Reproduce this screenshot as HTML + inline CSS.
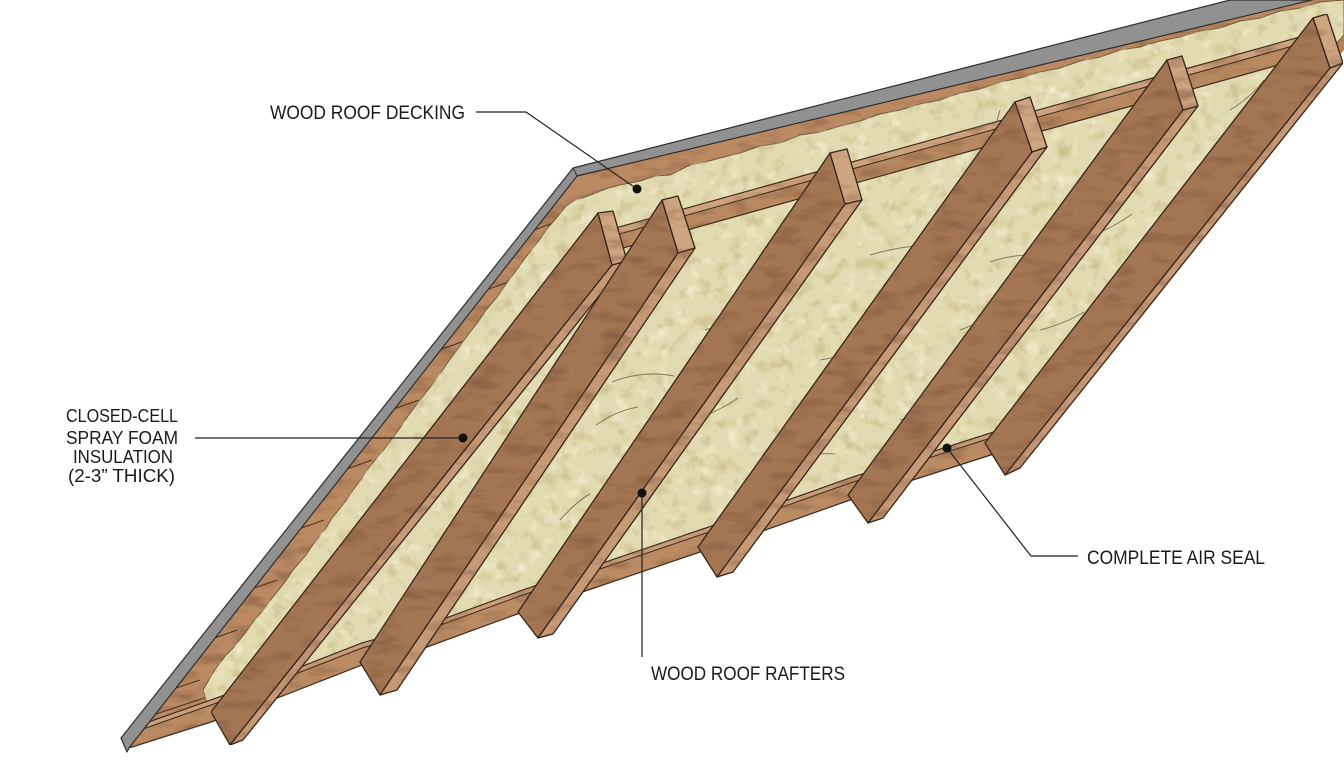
<!DOCTYPE html>
<html><head><meta charset="utf-8"><style>html,body{margin:0;padding:0;background:#fff}svg{display:block}</style></head>
<body>
<svg width="1344" height="768" viewBox="0 0 1344 768" xmlns="http://www.w3.org/2000/svg">
<defs>
<filter id="foamf" x="0" y="0" width="100%" height="100%" color-interpolation-filters="sRGB">
<feTurbulence type="fractalNoise" baseFrequency="0.07" numOctaves="3" seed="5" result="t"/>
<feColorMatrix in="t" type="matrix" values="0 0 0 0 0.76 0 0 0 0 0.71 0 0 0 0 0.50 2 0 0 0 -1.05" result="dk"/>
<feColorMatrix in="t" type="matrix" values="0 0 0 0 0.97 0 0 0 0 0.95 0 0 0 0 0.84 0 -2.2 0 0 1.0" result="lt"/>
<feComposite in="dk" in2="SourceGraphic" operator="in" result="dk2"/>
<feComposite in="lt" in2="SourceGraphic" operator="in" result="lt2"/>
<feMerge><feMergeNode in="SourceGraphic"/><feMergeNode in="dk2"/><feMergeNode in="lt2"/></feMerge>
</filter>
<filter id="woodf" x="0" y="0" width="100%" height="100%" color-interpolation-filters="sRGB">
<feTurbulence type="fractalNoise" baseFrequency="0.03 0.09" numOctaves="3" seed="9" result="t"/>
<feColorMatrix in="t" type="matrix" values="0 0 0 0 0.45 0 0 0 0 0.30 0 0 0 0 0.20 1.2 0 0 0 -0.56" result="dk"/>
<feComposite in="dk" in2="SourceGraphic" operator="in" result="dk2"/>
<feMerge><feMergeNode in="SourceGraphic"/><feMergeNode in="dk2"/></feMerge>
</filter>
</defs>

<!-- base deck wood -->
<g filter="url(#woodf)">
<polygon points="577,176 1312,0 1344,0 1344,50 1010,448 1000,452 913,480 850,500 760,532 700,552 600,586 520,613 427,647 362,665 280,697 211,722 129,748" fill="#bb8a63"/>
</g>
<!-- plank lines in left band -->
<g stroke="#4a3424" stroke-width="1.1" fill="none">
<path d="M534,230 l28,-10"/><path d="M486,290 l28,-10"/><path d="M439,350 l28,-10"/>
<path d="M391,410 l28,-10"/><path d="M344,470 l28,-10"/><path d="M296,530 l28,-10"/>
<path d="M249,590 l28,-10"/><path d="M209,640 l28,-10"/><path d="M170,690 l30,-10"/>
<path d="M150,716 l60,-20"/>
</g>

<!-- foam -->
<g filter="url(#foamf)">
<polygon fill="#e2dab0" stroke="#6e5a3a" stroke-width="1" points="214,707 206,700 203,690 210,678 216,668 226,655 233,648 246,632 253,622 265,608 272,598 285,582 293,570 306,555 312,546 326,528 332,518 345,502 350,494 362,478 370,466 382,452 388,444 400,428 408,416 420,400 428,390 440,374 448,362 460,346 467,336 478,322 486,310 498,296 506,284 518,268 525,258 538,242 546,230 558,216 566,206 576,200 585,197 598,192 608,188 620,185 640,181 655,176 670,175 690,165 705,162 720,158 740,153 760,146 780,143 800,135 820,132 840,126 860,121 880,114 900,110 920,104 940,100 960,93 980,89 1000,82 1020,78 1040,72 1060,68 1080,61 1100,57 1120,50 1140,47 1160,41 1180,37 1200,31 1220,28 1240,21 1260,18 1280,11 1300,8 1320,2 1344,0 1344,35 1336,44 1000,455 1000,434 980,438 950,449 913,460 880,469 850,480 820,490 790,501 760,512 730,521 700,532 650,549 600,566 560,579 520,593 480,608 427,627 395,637 362,645 320,661 280,677 245,690 220,700"/>
</g>
<!-- foam crack marks -->
<g stroke="#5e5034" stroke-width="1" fill="none" opacity="0.7">
<path d="M612,382 q30,-12 62,-6"/><path d="M596,425 q20,-14 42,-18"/><path d="M560,520 q18,-20 30,-26"/>
<path d="M705,330 q35,-10 70,-8"/><path d="M690,420 q25,-6 48,-22"/><path d="M640,560 q25,-8 48,-4"/>
<path d="M870,255 q40,-12 80,-10"/><path d="M820,360 q28,-4 52,-18"/><path d="M780,460 q30,-8 55,-6"/>
<path d="M990,262 q30,-10 58,-6"/><path d="M960,330 q22,-8 40,-22"/><path d="M900,420 q26,-4 46,-16"/>
<path d="M1110,150 q30,-8 55,-22"/><path d="M1080,240 q30,-10 52,-26"/><path d="M1040,330 q24,-6 44,-18"/>
<path d="M1230,110 q20,-12 34,-30"/><path d="M1180,210 q22,-8 40,-24"/><path d="M1120,300 q24,-4 44,-18"/>
<path d="M470,540 q10,-18 14,-30"/><path d="M520,470 q18,-10 34,-12"/>
<path d="M1000,110 q-6,18 -2,28"/><path d="M900,150 q10,-4 22,-6"/>
</g>

<!-- blocking at top -->
<g filter="url(#woodf)">
<polygon points="605,231 1325,30 1325,52 605,253" fill="#b88860" stroke="#3a2a1e" stroke-width="1.2"/>
<polygon points="605,231 1325,30 1325,37 605,238" fill="#cda27c" stroke="#3a2a1e" stroke-width="1"/>
</g>

<!-- header at bottom -->
<g filter="url(#woodf)">
<polygon fill="#bb8b64" stroke="#3a2a1e" stroke-width="1.2" points="129,748 211,722 280,697 362,665 427,647 520,613 600,586 700,552 760,532 850,500 913,480 1000,452 1010,448 1010,426 1000,430 913,458 850,478 760,510 700,530 600,564 520,591 427,625 362,643 280,675 211,700 143,724"/>
<polygon fill="#cb9f79" stroke="#3a2a1e" stroke-width="1" points="143,724 211,700 280,675 362,643 427,625 520,591 600,564 700,530 760,510 850,478 913,458 1000,430 1010,426 1010,431 1000,435 913,463 850,483 760,515 700,535 600,569 520,596 427,630 362,648 280,680 211,705 143,729"/>
</g>

<!-- rafters -->
<g filter="url(#woodf)" stroke="#33241a" stroke-width="1.3" stroke-linejoin="round">
<polygon points="598,213 612,265 230,745 211,712" fill="#a57654"/>
<polygon points="612,265 627,261 243,740 230,745" fill="#c69a77"/>
<polygon points="598,213 613,211 627,261 612,265" fill="#cea581"/>

<polygon points="662,200 678,253 380,695 360,662" fill="#a57654"/>
<polygon points="678,253 695,248 397,690 380,695" fill="#c69a77"/>
<polygon points="662,200 678,196 695,248 678,253" fill="#cea581"/>

<polygon points="830,153 845,204 538,638 518,612" fill="#a57654"/>
<polygon points="845,204 862,200 553,634 538,638" fill="#c69a77"/>
<polygon points="830,153 847,149 862,200 845,204" fill="#cea581"/>

<polygon points="1015,102 1032,152 717,577 698,547" fill="#a57654"/>
<polygon points="1032,152 1047,147 733,572 717,577" fill="#c69a77"/>
<polygon points="1015,102 1030,97 1047,147 1032,152" fill="#cea581"/>

<polygon points="1167,60 1183,110 868,523 848,495" fill="#a57654"/>
<polygon points="1183,110 1198,106 883,518 868,523" fill="#c69a77"/>
<polygon points="1167,60 1182,56 1198,106 1183,110" fill="#cea581"/>

<polygon points="1313,18 1330,68 1005,475 985,443" fill="#a57654"/>
<polygon points="1330,68 1343,63 1020,468 1005,475" fill="#c69a77"/>
<polygon points="1313,18 1327,14 1343,63 1330,68" fill="#cea581"/>
</g>

<!-- gray deck edge -->
<polygon points="573,168 1230,0 1312,0 577,176 129,748 127,752 121,738" fill="#919191" stroke="#2e2e2e" stroke-width="1.2" stroke-linejoin="round"/>
<line x1="573" y1="168" x2="577" y2="176" stroke="#2e2e2e" stroke-width="1"/>

<!-- leaders -->
<g stroke="#222" stroke-width="1.2" fill="none">
<path d="M476,112 L526,112 L637,189"/>
<path d="M195,438 L463,438"/>
<path d="M642,493 L642,657"/>
<path d="M947,448 L1031,556 L1078,556"/>
</g>
<g fill="#111">
<circle cx="637" cy="189" r="4.5"/>
<circle cx="463" cy="438" r="4.5"/>
<circle cx="642" cy="493" r="4.5"/>
<circle cx="947" cy="448" r="4.5"/>
</g>

<!-- labels -->
<g font-family="'Liberation Sans', Arial, sans-serif" fill="#1a1a1a" font-size="19">
<text x="270" y="119" textLength="195" lengthAdjust="spacingAndGlyphs">WOOD ROOF DECKING</text>
<text x="66" y="422" font-size="18.5" textLength="112" lengthAdjust="spacingAndGlyphs">CLOSED-CELL</text>
<text x="66" y="444" font-size="18.5" textLength="112" lengthAdjust="spacingAndGlyphs">SPRAY FOAM</text>
<text x="73" y="463" font-size="18.5" textLength="100" lengthAdjust="spacingAndGlyphs">INSULATION</text>
<text x="68" y="482" font-size="18.5" textLength="107" lengthAdjust="spacingAndGlyphs">(2-3” THICK)</text>
<text x="651" y="680" textLength="194" lengthAdjust="spacingAndGlyphs">WOOD ROOF RAFTERS</text>
<text x="1087" y="564" textLength="178" lengthAdjust="spacingAndGlyphs">COMPLETE AIR SEAL</text>
</g>
</svg>
</body></html>
